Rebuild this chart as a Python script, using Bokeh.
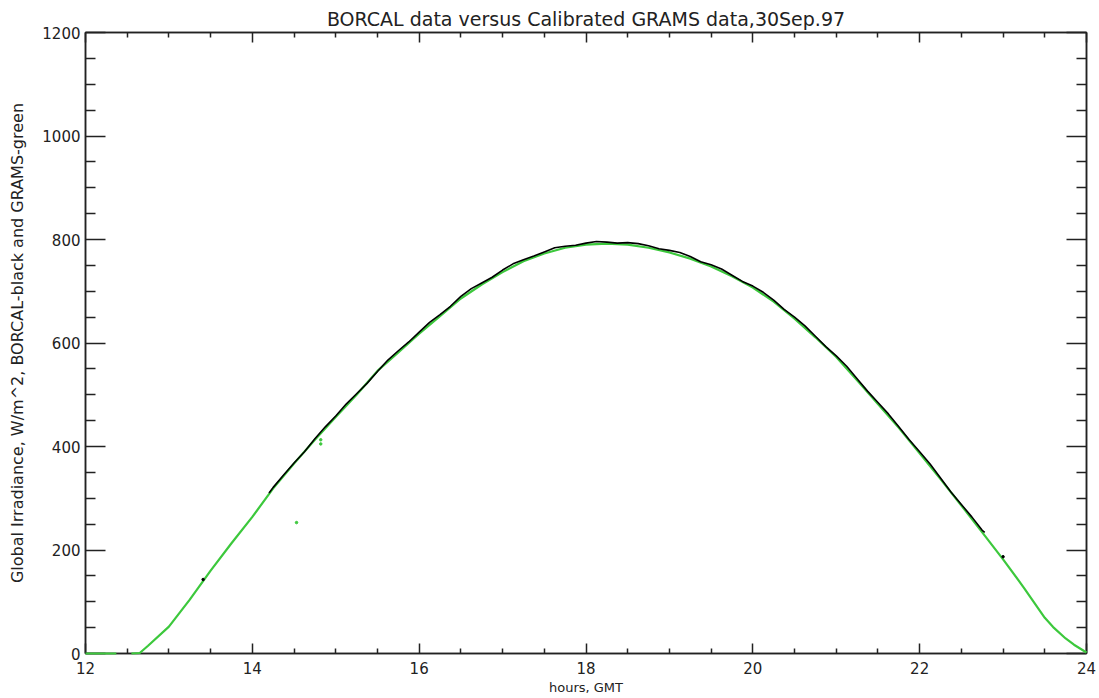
from bokeh.plotting import figure
from bokeh.models import LinearAxis, FixedTicker, Range1d
from bokeh.embed import file_html
from bokeh.resources import INLINE

NAN = float("nan")

# GRAMS (green) series: hours GMT, irradiance W/m^2
grams_hours = [12.0, 12.2, 12.37, 12.46, 12.55, 12.65, 12.75, 13.0, 13.25, 13.5, 13.75,
               14.0, 14.25, 14.5, 14.75, 15.0, 15.25, 15.5, 15.75, 16.0, 16.25, 16.5,
               16.75, 17.0, 17.25, 17.5, 17.75, 18.0, 18.25, 18.5, 18.75, 19.0, 19.25,
               19.5, 19.75, 20.0, 20.25, 20.5, 20.75, 21.0, 21.25, 21.5, 21.75, 22.0,
               22.25, 22.5, 22.75, 23.0, 23.25, 23.5, 23.6, 23.75, 23.85, 24.0]
grams_values = [0, 0, 0, NAN, 0, 1, 15, 52, 104, 160, 213,
                264, 319, 367, 413, 457, 500, 546, 582, 618, 652, 686,
                713, 737, 758, 773, 784, 790, 792, 790, 784, 775, 763,
                748, 729, 707, 680, 647, 611, 573, 528, 482, 436, 387,
                337, 286, 234, 182, 127, 69, 51, 29, 17, 2]

# BORCAL (black) series
borcal_hours = [14.2, 14.25, 14.375, 14.5, 14.625, 14.75, 14.875, 15.0, 15.125, 15.25,
                15.375, 15.5, 15.625, 15.75, 15.875, 16.0, 16.125, 16.25, 16.375, 16.5,
                16.625, 16.75, 16.875, 17.0, 17.125, 17.25, 17.375, 17.5, 17.625, 17.75,
                17.875, 18.0, 18.125, 18.25, 18.375, 18.5, 18.625, 18.75, 18.875, 19.0,
                19.125, 19.25, 19.375, 19.5, 19.625, 19.75, 19.875, 20.0, 20.125, 20.25,
                20.375, 20.5, 20.625, 20.75, 20.875, 21.0, 21.125, 21.25, 21.375, 21.5,
                21.625, 21.75, 21.875, 22.0, 22.125, 22.25, 22.375, 22.5, 22.625, 22.75,
                22.78]
borcal_values = [310, 321, 345, 368, 390, 415, 438, 459, 482, 502,
                 522, 545, 567, 585, 602, 621, 640, 655, 671, 690,
                 705, 716, 727, 741, 753, 761, 768, 776, 784, 787,
                 789, 793, 796, 795, 793, 794, 792, 788, 782, 779,
                 775, 767, 757, 751, 743, 731, 719, 710, 698, 683,
                 665, 650, 633, 613, 593, 575, 555, 531, 507, 485,
                 463, 438, 413, 390, 366, 339, 312, 288, 264, 238,
                 234]

# isolated stray samples
borcal_dot_hours = [13.41, 23.0]
borcal_dot_values = [143, 187]
grams_dot_hours = [14.53, 14.82, 14.82]
grams_dot_values = [253, 405, 413]

x_major = [12, 14, 16, 18, 20, 22, 24]
x_minor = [12.5, 13, 13.5, 14.5, 15, 15.5, 16.5, 17, 17.5, 18.5, 19, 19.5,
           20.5, 21, 21.5, 22.5, 23, 23.5]
y_major = [0, 200, 400, 600, 800, 1000, 1200]
y_minor = [v for v in range(0, 1201, 50) if v % 200 != 0]

GREEN = "#3cc83c"
FONT = "DejaVu Sans"

p = figure(width=1099, height=698, output_backend="svg", toolbar_location=None,
           x_range=Range1d(12, 24), y_range=Range1d(0, 1200),
           min_border_left=85, min_border_right=13, min_border_top=32, min_border_bottom=45,
           title="BORCAL data versus Calibrated GRAMS data,30Sep.97")

p.title.align = "center"
p.title.text_font = FONT
p.title.text_font_size = "19px"
p.title.text_font_style = "normal"
p.title.text_color = "#222222"
p.title.offset = 0
p.title.standoff = 5

p.grid.visible = False
p.outline_line_color = "#222222"
p.outline_line_width = 1.5
p.background_fill_color = "white"
p.border_fill_color = "white"

xt = FixedTicker(ticks=x_major, minor_ticks=x_minor)
yt = FixedTicker(ticks=y_major, minor_ticks=y_minor)

def style(ax, ticker, major, minor, show_labels):
    ax.ticker = ticker
    ax.major_tick_in = major
    ax.major_tick_out = 0
    ax.minor_tick_in = minor
    ax.minor_tick_out = 0
    ax.axis_line_color = "#222222"
    ax.axis_line_width = 1.5
    ax.major_tick_line_color = "#222222"
    ax.major_tick_line_width = 1.5
    ax.minor_tick_line_color = "#222222"
    ax.minor_tick_line_width = 1.5
    ax.major_label_text_font = FONT
    ax.major_label_text_font_size = "15px"
    ax.major_label_text_color = "#222222" if show_labels else None
    ax.axis_label_text_font = FONT
    ax.axis_label_text_font_style = "normal"
    ax.axis_label_text_color = "#222222"

xa = p.xaxis[0]
style(xa, xt, 10, 5, True)
xa.major_label_standoff = 8
xa.axis_label = "hours, GMT"
xa.axis_label_text_font_size = "13px"
xa.axis_label_standoff = 3

ya = p.yaxis[0]
style(ya, yt, 20, 10, True)
ya.major_label_standoff = 5
ya.axis_label = "Global Irradiance, W/m^2, BORCAL-black and GRAMS-green"
ya.axis_label_text_font_size = "16px"
ya.axis_label_standoff = 12

top = LinearAxis()
style(top, xt, 10, 5, False)
top.major_label_text_font_size = "0px"
top.major_label_standoff = 0
p.add_layout(top, "above")

right = LinearAxis()
style(right, yt, 20, 10, False)
right.major_label_text_font_size = "0px"
right.major_label_standoff = 0
p.add_layout(right, "right")

p.line(grams_hours, grams_values, line_color=GREEN, line_width=2.2, level="overlay")
p.line(borcal_hours, borcal_values, line_color="black", line_width=1.6, level="overlay")
p.scatter(grams_dot_hours, grams_dot_values, size=2.5, color=GREEN, level="overlay")
p.scatter(borcal_dot_hours, borcal_dot_values, size=2.5, color="black", level="overlay")

open("out.html", "w").write(file_html(p, INLINE))
